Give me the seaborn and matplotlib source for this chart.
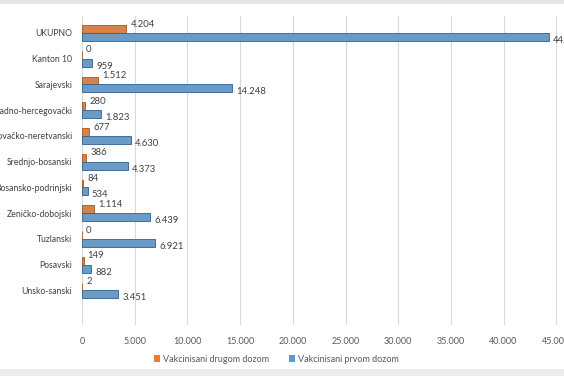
import pandas as pd
import seaborn as sns
import matplotlib.pyplot as plt
from matplotlib.patches import Rectangle, Patch

# Data
kantoni = ["UKUPNO", "Kanton 10", "Sarajevski", "Zapadno-hercegovački",
           "Hercegovačko-neretvanski", "Srednjo-bosanski", "Bosansko-podrinjski",
           "Zeničko-dobojski", "Tuzlanski", "Posavski", "Unsko-sanski"]
druga_doza = [4204, 0, 1512, 280, 677, 386, 84, 1114, 0, 149, 2]
prva_doza = [44260, 959, 14248, 1823, 4630, 4373, 534, 6439, 6921, 882, 3451]
serije = ["Vakcinisani drugom dozom", "Vakcinisani prvom dozom"]
x_ticks = [0, 5000, 10000, 15000, 20000, 25000, 30000, 35000, 40000, 45000, 50000]

df = pd.DataFrame({
    "kanton": kantoni * 2,
    "broj": druga_doza + prva_doza,
    "serija": [serije[0]] * len(kantoni) + [serije[1]] * len(kantoni),
})

boje = {serije[0]: "#ED7D31", serije[1]: "#5B9BD5"}
rubovi = {serije[0]: "#A8561E", serije[1]: "#2F5F8F"}

sns.set_style("white")
plt.rcParams["font.family"] = ["Lato", "DejaVu Sans"]

fig = plt.figure(figsize=(5.64, 3.76), dpi=100)
# axes deliberately runs past the right edge, like the cropped original
ax = fig.add_axes([82 / 564, 1 - 325 / 376, (609 - 82) / 564, (325 - 16) / 376])

sns.barplot(data=df, y="kanton", x="broj", hue="serija", hue_order=serije,
            palette=boje, orient="h", width=0.62, ax=ax, legend=False)

def fmt(v):
    return f"{int(v):,}".replace(",", ".")

for cont, s in zip(ax.containers, serije):
    for bar in cont:
        bar.set_edgecolor(rubovi[s])
        bar.set_linewidth(0.6)
        w = bar.get_width()
        yc = bar.get_y() + bar.get_height() / 2
        dy = 3.5 if s == serije[0] else -2.5
        ax.annotate(fmt(w), (w, yc), xytext=(3, dy), textcoords="offset points",
                    ha="left", va="center", fontsize=6.8, color="#404040",
                    annotation_clip=False)

ax.set_xlim(0, 50000)
ax.set_ylim(11.34, -0.66)
ax.set_xticks(x_ticks)
ax.set_xticklabels([fmt(t) for t in x_ticks])
ax.set_xlabel("")
ax.set_ylabel("")
ax.grid(axis="x", color="#D9D9D9", linewidth=0.8)
ax.set_axisbelow(True)
for sp in ax.spines.values():
    sp.set_visible(False)
ax.tick_params(axis="x", length=0, pad=9, labelsize=6.5, labelcolor="#595959")
ax.tick_params(axis="y", length=0, pad=7, labelsize=6.2, labelcolor="#404040")

handles = [Patch(facecolor=boje[s], edgecolor="none") for s in serije]
fig.legend(handles, serije, loc="center", bbox_to_anchor=(0.49, 1 - 359 / 376),
           ncol=2, frameon=False, fontsize=6.5, handlelength=0.7, handleheight=0.7,
           handletextpad=0.3, columnspacing=2.2, labelcolor="#595959")

# light grey frame strips at top and bottom of the screenshot
fig.patches.append(Rectangle((0, 1 - 4 / 376), 1, 4 / 376, transform=fig.transFigure,
                             facecolor="#E6E6E6", edgecolor="none", zorder=0))
fig.patches.append(Rectangle((0, 0), 1, 7 / 376, transform=fig.transFigure,
                             facecolor="#EDEDED", edgecolor="none", zorder=0))

fig.savefig("out.png", dpi=100)
